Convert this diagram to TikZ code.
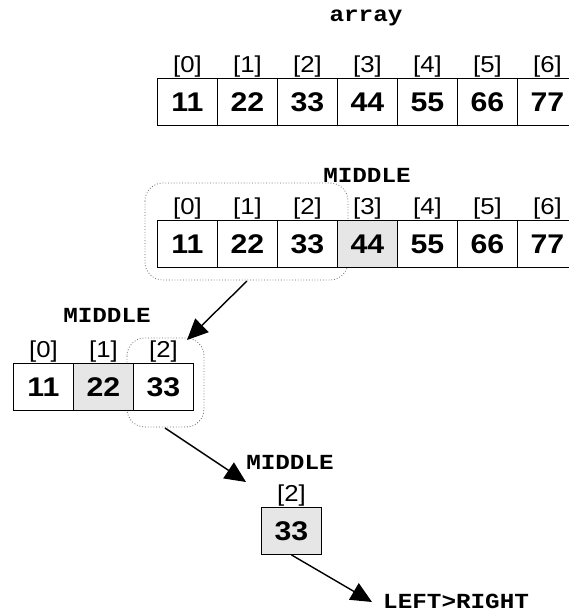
\documentclass[tikz,border=0pt]{standalone}
\usepackage{fontspec}
\setmainfont{Liberation Sans}[FakeStretch=1.12]
\setmonofont{Liberation Mono}[FakeStretch=1.13]
\usetikzlibrary{arrows.meta}
\definecolor{cellgray}{HTML}{E6E6E6}
\tikzset{
  cell/.style={draw=black, line width=0.9pt, fill=white, minimum width=60pt,
    minimum height=47pt, inner sep=0pt, anchor=north west,
    font=\fontsize{27}{27}\selectfont\bfseries},
  hicell/.style={cell, fill=cellgray},
  idx/.style={inner sep=0pt, anchor=south, font=\fontsize{23}{23}\selectfont},
  tag/.style={inner sep=0pt, font=\fontsize{21.5}{21.5}\selectfont\ttfamily\bfseries},
  group/.style={draw=black!60, dotted, line width=0.8pt, rounded corners=18pt},
  link/.style={line width=1.4pt, -{Triangle[length=21pt,width=19pt]}}
}
\begin{document}
\begin{tikzpicture}[x=1pt,y=-1pt]
\useasboundingbox (0,0) rectangle (569,612);

% whole array
\node[tag] (title) at (366,18) {array};
\foreach \v [count=\i from 0] in {11,22,33,44,55,66,77} {
  \node[cell] (a\i) at (157+60*\i,78) {\v};
  \node[idx] (ai\i) at ([yshift=1pt]a\i.north) {[\i]};
}

% first split: the left half is picked out
\draw[group] (145,183) rectangle (348,280);
\node[tag] (mid1) at (367,175) {MIDDLE};
\foreach \v [count=\i from 0] in {11,22,33,44,55,66,77} {
  \ifnum\i=3
    \node[hicell] (b\i) at (157+60*\i,220) {\v};
  \else
    \node[cell] (b\i) at (157+60*\i,220) {\v};
  \fi
  \node[idx] (bi\i) at ([yshift=0.5pt]b\i.north) {[\i]};
}
\coordinate (g1) at (247,281);

% second split
\draw[group] (127,338) rectangle (204,427);
\node[tag] (mid2) at (107,315) {MIDDLE};
\foreach \v [count=\i from 0] in {11,22,33} {
  \ifnum\i=1
    \node[hicell] (c\i) at (13+60*\i,363) {\v};
  \else
    \node[cell] (c\i) at (13+60*\i,363) {\v};
  \fi
  \node[idx] (ci\i) at ([yshift=0.5pt]c\i.north) {[\i]};
}
\coordinate (g2) at (165,428);

% last single element
\node[tag] (mid3) at (290,462) {MIDDLE};
\node[hicell] (d2) at (261,507) {33};
\node[idx] (di2) at ([yshift=0.5pt]d2.north) {[2]};
\node[tag, anchor=west] (stop) at (383,601) {LEFT>RIGHT};

% connectors
\coordinate (t1) at (187,340);
\coordinate (t2) at (246,482);
\coordinate (t3) at (372,602);
\draw[link] (g1) -- (t1);
\draw[link] (g2) -- (t2);
\draw[link] (d2.south) -- (t3);
\end{tikzpicture}
\end{document}
